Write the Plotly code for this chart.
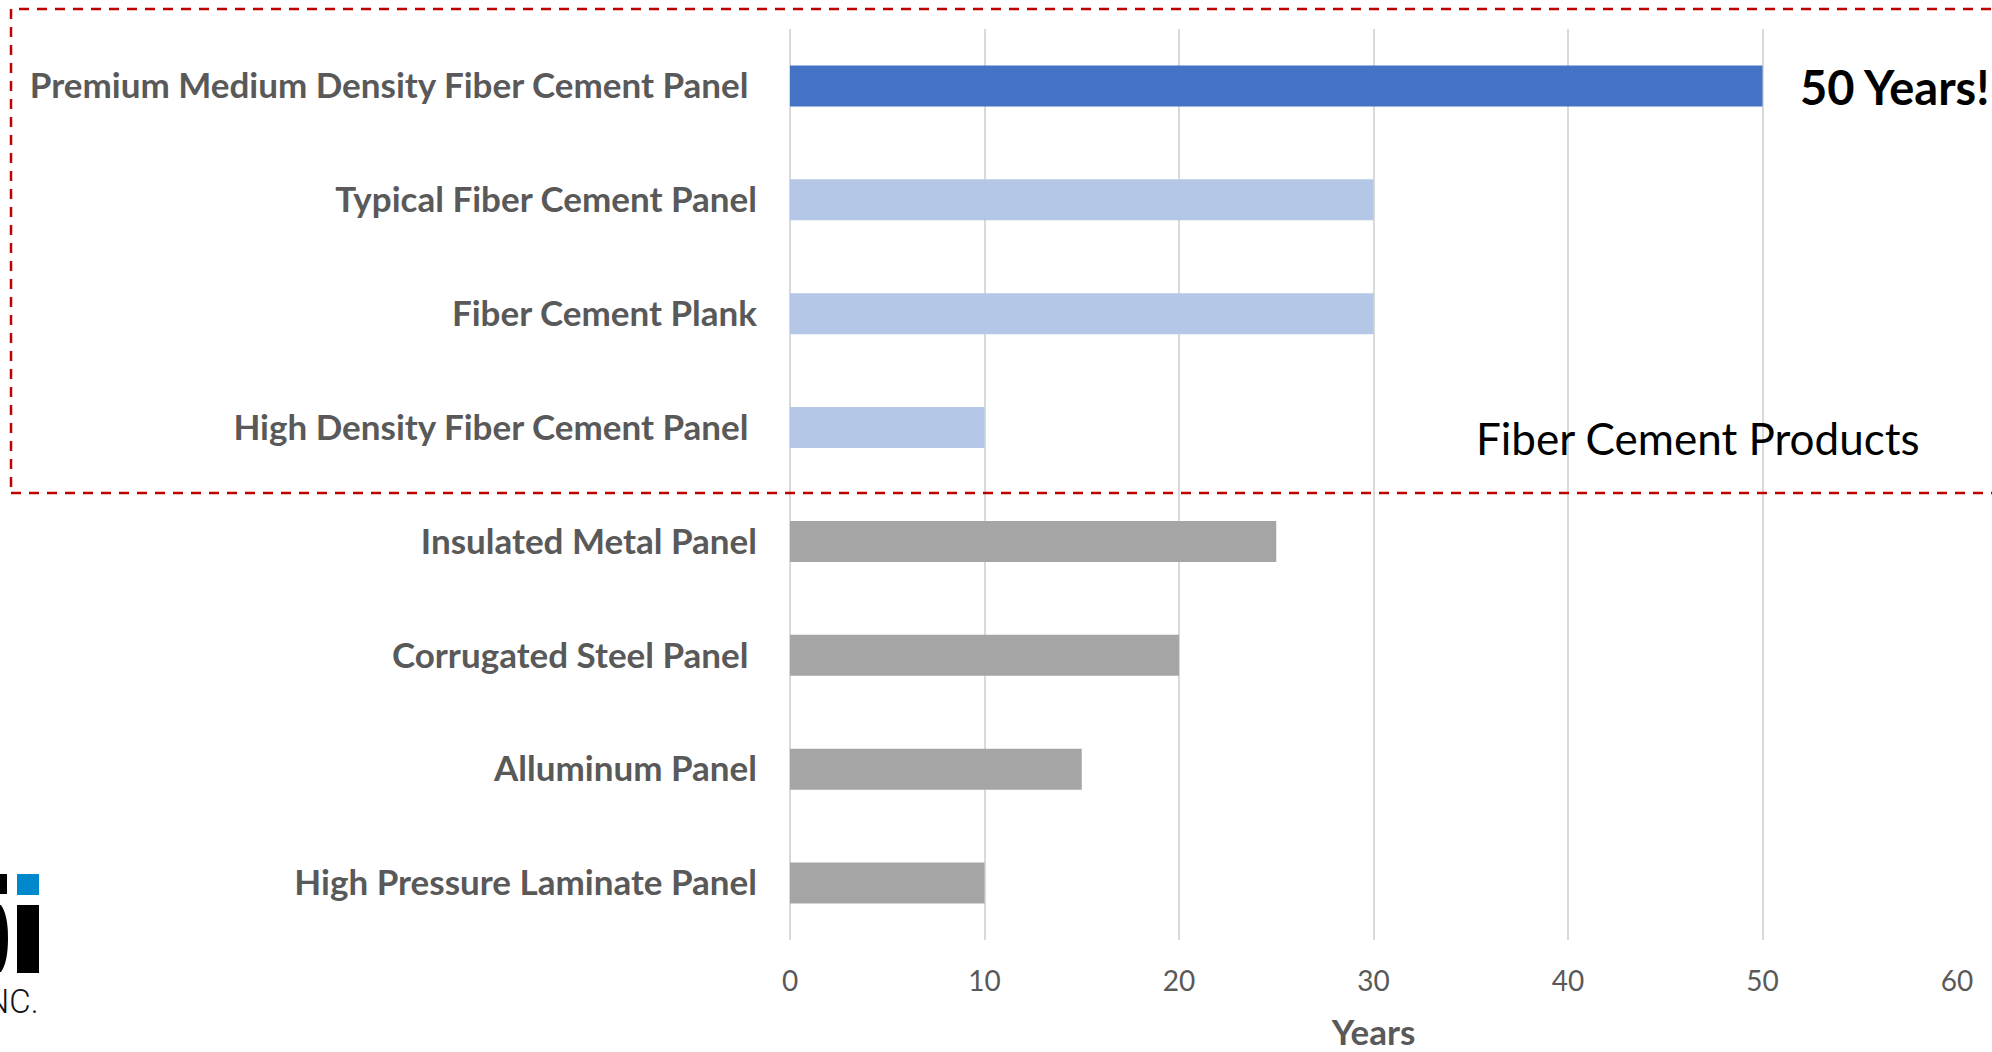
import plotly.graph_objects as go

categories = [
    "Premium Medium Density Fiber Cement Panel\u00a0",
    "Typical Fiber Cement Panel",
    "Fiber Cement Plank",
    "High Density Fiber Cement Panel\u00a0",
    "Insulated Metal Panel",
    "Corrugated Steel Panel\u00a0",
    "Alluminum Panel",
    "High Pressure Laminate Panel",
]
years = [50, 30, 30, 10, 25, 20, 15, 10]
bar_colors = ["#4472C4", "#B4C7E7", "#B4C7E7", "#B4C7E7",
              "#A5A5A5", "#A5A5A5", "#A5A5A5", "#A5A5A5"]
x_ticks = [0, 10, 20, 30, 40, 50, 60]

W, H = 1992, 1052
ML, MR, MT, MB = 790, 35, 29, 112
PW, PH = W - ML - MR, H - MT - MB


def px(x):
    return (x - ML) / PW


def py(y):
    return 1 - (y - MT) / PH


fig = go.Figure(go.Bar(
    x=years, y=categories, orientation="h",
    marker=dict(color=bar_colors, line=dict(width=0)),
    hoverinfo="x+y",
))

shapes = [
    # dashed red box around fiber cement products
    dict(type="rect", xref="paper", yref="paper",
         x0=px(11), x1=px(2010), y0=py(493), y1=py(9),
         line=dict(color="#C00000", width=2.5, dash="10px,8px"),
         fillcolor="rgba(0,0,0,0)", layer="above"),
    # logo pieces
    dict(type="rect", xref="paper", yref="paper",
         x0=px(17), x1=px(39), y0=py(895), y1=py(874),
         line=dict(width=0), fillcolor="#0088CC"),
    dict(type="rect", xref="paper", yref="paper",
         x0=px(17), x1=px(39), y0=py(973), y1=py(905),
         line=dict(width=0), fillcolor="#000000"),
    dict(type="rect", xref="paper", yref="paper",
         x0=px(-5), x1=px(7), y0=py(894), y1=py(874),
         line=dict(width=0), fillcolor="#000000"),
    dict(type="path", xref="paper", yref="paper",
         path=(f"M {px(-5)} {py(905)} L {px(1)} {py(905)} "
               f"Q {px(8)} {py(915)} {px(8)} {py(938)} "
               f"Q {px(8)} {py(962)} {px(1)} {py(972)} "
               f"L {px(-5)} {py(972)} Z"),
         line=dict(width=0), fillcolor="#000000"),
]

annotations = [
    dict(text="<b>50 Years!</b>", xref="paper", yref="paper",
         x=px(1798), y=py(87), xanchor="left", yanchor="middle",
         showarrow=False, font=dict(family="Lato", size=47, color="#000000")),
    dict(text="Fiber Cement Products", xref="paper", yref="paper",
         x=px(1474), y=py(438), xanchor="left", yanchor="middle",
         showarrow=False, font=dict(family="Lato", size=44, color="#000000")),
    dict(text="INC.", xref="paper", yref="paper",
         x=px(41), y=py(1002), xanchor="right", yanchor="middle",
         showarrow=False,
         font=dict(family="Roboto", size=33, color="#111111", weight=300)),
]

fig.update_layout(
    width=W, height=H,
    margin=dict(l=ML, r=MR, t=MT, b=MB, pad=0, autoexpand=False),
    paper_bgcolor="white", plot_bgcolor="white",
    bargap=0.64,
    showlegend=False,
    shapes=shapes,
    annotations=annotations,
    font=dict(family="Lato", color="#595959"),
)

fig.update_xaxes(
    range=[0, 60], tickvals=x_ticks, ticktext=[str(v) for v in x_ticks],
    showgrid=True, gridcolor="#D9D9D9", gridwidth=2,
    zeroline=True, zerolinecolor="#D9D9D9", zerolinewidth=2,
    showline=False, ticks="",
    tickfont=dict(family="Lato", size=28, color="#595959"),
    ticklabelstandoff=22,
    title=dict(text="<b>Years</b>", font=dict(family="Lato", size=35, color="#595959"),
               standoff=32),
    automargin=False,
    fixedrange=True,
)
fig.update_yaxes(
    categoryorder="array", categoryarray=categories, autorange="reversed",
    showgrid=False, zeroline=False, showline=False, ticks="",
    tickfont=dict(family="Lato", size=35, color="#595959", weight="bold"),
    ticklabelstandoff=32,
    automargin=False,
    fixedrange=True,
)

fig.write_html("out.html")
